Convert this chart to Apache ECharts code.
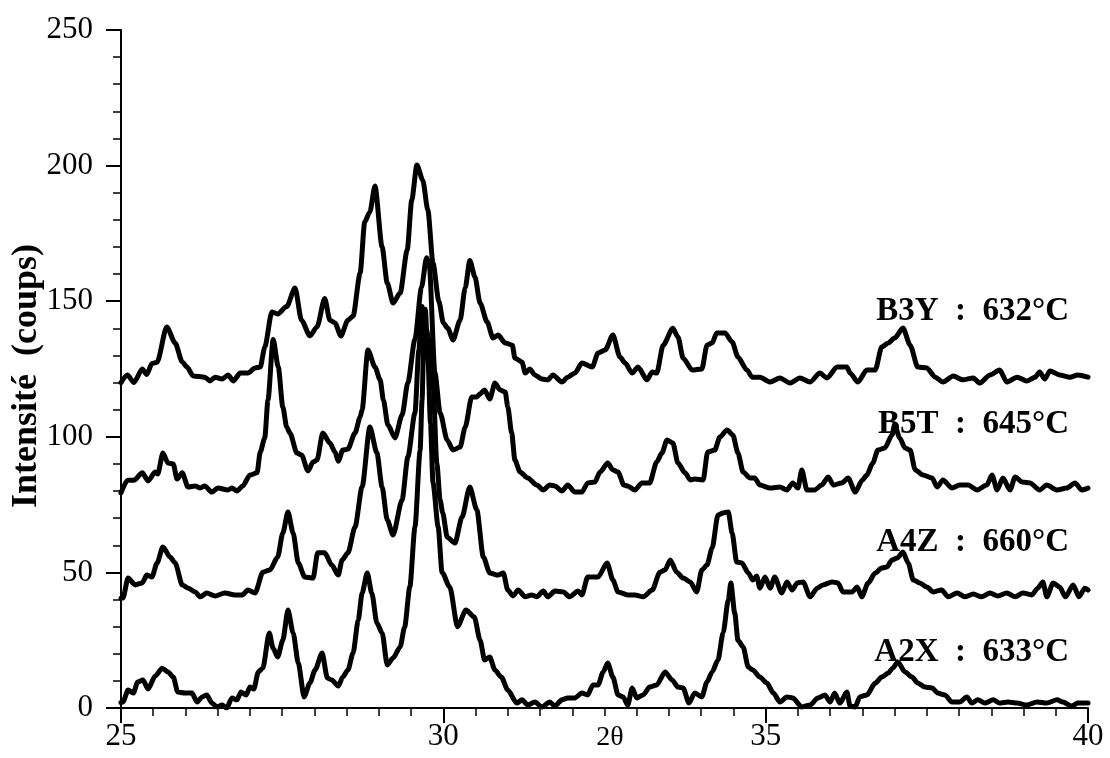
<!DOCTYPE html>
<html>
<head>
<meta charset="utf-8">
<script src="https://cdn.jsdelivr.net/npm/echarts@6/dist/echarts.min.js"></script>
<style>
html,body{margin:0;padding:0;background:#fff;}
#chart{width:1110px;height:758px;}
</style>
</head>
<body>
<div id="chart"></div>
<script>
// ---- Data (2θ in degrees, intensity in counts; curves are vertically offset as in the figure) ----
const xTicks = [25, 30, 35, 40];
const yTicks = [0, 50, 100, 150, 200, 250];
const seriesLabels = ['B3Y  :  632°C', 'B5T  :  645°C', 'A4Z  :  660°C', 'A2X  :  633°C'];
const xAxisTitle = '2θ';
const yAxisTitle = 'Intensité  (coups)';

const B3Y = [[25.0,120],[25.1,122.8],[25.2,120],[25.33,125],[25.4,123],[25.48,127],[25.56,127.5],[25.71,140.5],[25.84,134.6],[25.95,127.6],[26.02,125.8],[26.12,122.4],[26.3,122],[26.38,120.6],[26.46,122],[26.57,121.3],[26.66,122.8],[26.74,120.6],[26.85,123.5],[26.97,123.5],[27.08,125.4],[27.16,125.7],[27.23,133],[27.34,146],[27.43,145.3],[27.57,148],[27.7,154.9],[27.8,143],[27.93,137.2],[28.04,140.5],[28.16,151],[28.24,143],[28.32,142],[28.41,137.2],[28.52,143],[28.6,144.5],[28.71,160.4],[28.78,179.2],[28.86,182.9],[28.94,192.5],[29.05,170],[29.13,156.7],[29.22,149.3],[29.33,153],[29.44,168.9],[29.51,187.3],[29.59,200.2],[29.68,194.7],[29.76,183.6],[29.84,164],[29.93,150],[30.0,142],[30.07,140],[30.15,135.7],[30.26,143],[30.34,155],[30.41,165],[30.49,159],[30.57,149.3],[30.68,142.3],[30.77,136.4],[30.85,137.5],[30.96,134.6],[31.07,133.8],[31.11,129],[31.22,127.6],[31.27,123.5],[31.34,125],[31.42,122.8],[31.53,121.3],[31.62,121],[31.7,122.8],[31.84,120.2],[31.93,122],[32.04,123.5],[32.15,127.2],[32.31,125.7],[32.4,130.9],[32.51,132],[32.63,137.5],[32.74,129.4],[32.82,127.2],[32.93,123.5],[33.02,125.7],[33.16,121],[33.24,123.9],[33.31,123.5],[33.41,133.8],[33.56,140],[33.64,136.8],[33.72,129],[33.86,124.6],[34.01,125],[34.09,133.8],[34.17,134.6],[34.24,138.3],[34.37,138.3],[34.48,135],[34.57,129.4],[34.71,124.6],[34.79,122],[34.91,122],[35.07,120.2],[35.22,121.7],[35.38,119.8],[35.53,121.7],[35.69,120.2],[35.84,123.5],[35.95,121.7],[36.11,125.7],[36.26,125.7],[36.31,123.5],[36.43,120.2],[36.57,124.6],[36.7,124.6],[36.8,133.1],[36.9,134.6],[37.0,136.4],[37.13,140.1],[37.24,133.8],[37.36,125.7],[37.5,125.4],[37.63,122],[37.75,120.2],[37.91,122.4],[38.06,121],[38.22,121.7],[38.32,119.8],[38.48,122.8],[38.63,124.6],[38.74,120.2],[38.9,122],[39.05,120.6],[39.18,122],[39.25,123.9],[39.33,121.3],[39.41,124.3],[39.56,122.8],[39.72,122],[39.84,122.8],[40.0,122]];

const B5T = [[25.0,79.3],[25.1,84],[25.2,84],[25.33,86.7],[25.42,83.7],[25.53,87],[25.57,86.3],[25.65,94],[25.73,90.3],[25.81,90],[25.87,84.4],[25.95,86.7],[26.04,81.5],[26.15,81.9],[26.23,81.1],[26.3,81.9],[26.41,79.6],[26.5,81.1],[26.66,80.4],[26.72,81.1],[26.8,80],[26.89,81.9],[27.0,85.9],[27.11,86.7],[27.16,94.4],[27.23,99.6],[27.28,113.6],[27.36,135.9],[27.44,125.7],[27.51,111],[27.57,103.6],[27.62,101.4],[27.73,94],[27.8,93.3],[27.9,87.4],[27.98,90.7],[28.04,91.4],[28.13,101.4],[28.24,97.7],[28.32,94.4],[28.37,91],[28.44,95.1],[28.52,95.5],[28.63,101.4],[28.71,107.3],[28.74,110],[28.83,132],[28.94,125.7],[29.02,121],[29.07,113.6],[29.14,104.4],[29.25,99.6],[29.36,108],[29.45,120],[29.56,136],[29.66,155],[29.74,166],[29.78,164],[29.87,123.5],[29.95,108.8],[30.06,98.8],[30.15,95.1],[30.26,96.2],[30.34,103.6],[30.44,114.7],[30.52,114.7],[30.57,115.8],[30.64,117.3],[30.72,113.9],[30.8,119.8],[30.88,117.3],[30.96,116.5],[31.0,111],[31.06,101.4],[31.11,91.4],[31.19,87],[31.31,84.8],[31.45,82.2],[31.55,80.4],[31.65,82.2],[31.73,81.9],[31.84,80],[31.93,82.2],[32.04,79.6],[32.15,79.6],[32.24,83],[32.35,83.3],[32.43,87],[32.55,90.3],[32.63,87.8],[32.71,87],[32.8,82.2],[32.86,81.9],[32.97,80.4],[33.08,83],[33.2,83],[33.31,90.7],[33.39,94],[33.47,98.8],[33.56,97.7],[33.64,90.3],[33.75,86.7],[33.83,84.1],[33.9,84.4],[34.03,84.1],[34.1,94.4],[34.21,95.1],[34.29,99.9],[34.4,102.5],[34.49,100.7],[34.57,94],[34.65,87],[34.76,84.8],[34.83,84.8],[34.91,82.2],[35.07,81.1],[35.22,81.5],[35.33,80.4],[35.42,83],[35.5,81.1],[35.56,87.8],[35.64,80.4],[35.76,80.4],[35.87,82.2],[35.97,85.2],[36.05,82.2],[36.18,83],[36.28,84.8],[36.39,79.6],[36.5,84.1],[36.57,85.9],[36.66,90.3],[36.74,95.1],[36.85,95.9],[36.96,100.7],[37.0,104.4],[37.08,99.6],[37.16,95.9],[37.24,95.1],[37.32,87.8],[37.44,85.9],[37.58,84.8],[37.66,81.5],[37.75,84.1],[37.89,81.1],[38.01,82.2],[38.14,82.2],[38.28,80.4],[38.43,82.2],[38.51,85.9],[38.59,80.4],[38.68,84.8],[38.79,80.4],[38.87,85.2],[38.98,83.3],[39.1,83],[39.25,80.4],[39.36,82.2],[39.52,80.4],[39.67,81.1],[39.8,83],[39.9,80.4],[40.0,81.1]];

const A4Z = [[25.0,40.5],[25.03,40.6],[25.11,47.9],[25.22,45.4],[25.33,46.1],[25.4,49],[25.48,48.3],[25.56,53.5],[25.65,59.4],[25.76,55.7],[25.84,53.5],[25.95,45.4],[26.04,44.2],[26.15,42.8],[26.23,41],[26.33,42.4],[26.46,41.3],[26.61,42.4],[26.77,41.7],[26.88,41.7],[26.97,43.5],[27.08,42.4],[27.2,50.1],[27.31,50.9],[27.43,55.7],[27.51,64.5],[27.59,72.3],[27.67,64.5],[27.75,53.5],[27.85,48.3],[27.98,47.9],[28.05,57.2],[28.16,57.2],[28.27,52.7],[28.37,49],[28.43,54.6],[28.52,57.2],[28.63,66.7],[28.74,81.5],[28.86,103.6],[28.97,94],[29.05,81.5],[29.13,69.3],[29.22,63.8],[29.36,76.7],[29.45,92.6],[29.56,108.8],[29.62,132],[29.67,148],[29.73,140],[29.79,134.6],[29.84,119.8],[29.9,90],[29.95,76.7],[29.99,72],[30.06,63],[30.18,60.8],[30.29,70.4],[30.41,81.5],[30.52,73],[30.62,55.7],[30.72,49.8],[30.85,49],[30.93,49.8],[31.0,43.5],[31.08,41.3],[31.16,43.5],[31.27,41],[31.37,41.7],[31.45,41],[31.55,43.1],[31.62,41],[31.73,43.1],[31.86,42.8],[31.96,41],[32.09,43.1],[32.15,41.7],[32.24,48.3],[32.4,48.3],[32.54,53.5],[32.63,47.2],[32.71,42.8],[32.86,41.7],[32.97,41.7],[33.1,41],[33.24,43.5],[33.36,50.1],[33.44,50.9],[33.52,54.6],[33.62,50.1],[33.72,47.9],[33.83,46.5],[33.93,42.8],[34.01,50.9],[34.09,52.7],[34.17,59],[34.26,71.2],[34.34,71.9],[34.42,72.3],[34.48,64.5],[34.55,53.8],[34.63,53.5],[34.73,49.8],[34.8,47.2],[34.86,48.7],[34.91,44.2],[34.99,48.3],[35.07,44.2],[35.14,48.3],[35.25,42.4],[35.33,46.5],[35.41,43.5],[35.49,46.1],[35.58,46.5],[35.69,41],[35.8,44.2],[35.89,45.4],[36.03,46.5],[36.12,46.1],[36.2,42.8],[36.34,42.8],[36.42,44.6],[36.49,41],[36.59,46.1],[36.7,49.8],[36.8,51.6],[36.88,52],[36.96,54.6],[37.04,55.3],[37.13,57.5],[37.21,53.5],[37.29,47.2],[37.39,46.1],[37.5,44.6],[37.6,42.8],[37.73,43.5],[37.83,41],[37.97,42.4],[38.09,41],[38.22,42],[38.35,41],[38.48,42.4],[38.6,41.3],[38.74,42.4],[38.87,41],[38.99,42.4],[39.13,41.7],[39.22,44.2],[39.3,46.5],[39.36,41],[39.46,46.1],[39.56,44.6],[39.65,41],[39.77,45.4],[39.86,41],[39.95,44.2],[40.0,43.5]];

const A2X = [[25.0,2],[25.03,2.2],[25.11,6.6],[25.19,5.5],[25.26,9.6],[25.34,10.3],[25.42,7],[25.53,11.8],[25.64,14.7],[25.73,13.3],[25.81,11.4],[25.88,5.9],[25.99,5.5],[26.1,5.5],[26.18,2.2],[26.26,4.1],[26.33,4.8],[26.41,1.8],[26.49,0.4],[26.57,1.1],[26.64,0],[26.72,3.7],[26.8,3],[26.86,5.9],[26.94,4.8],[27.0,7.7],[27.06,7],[27.13,13.3],[27.2,14.7],[27.3,27.7],[27.36,22],[27.43,18.8],[27.51,25],[27.59,36.1],[27.67,27.7],[27.75,16.6],[27.84,4.1],[27.93,9.2],[28.01,14],[28.12,20.3],[28.2,11.1],[28.27,10.3],[28.37,8.1],[28.44,11.4],[28.52,14],[28.6,20.3],[28.68,32.4],[28.74,42.4],[28.82,49.8],[28.89,42.4],[28.97,31.3],[29.05,27.7],[29.13,15.9],[29.22,18.4],[29.33,22.5],[29.4,29.9],[29.48,44.6],[29.56,66.7],[29.64,95],[29.67,113.6],[29.7,140],[29.72,147],[29.76,130],[29.8,105],[29.84,83],[29.92,66.7],[29.98,50],[30.1,44.6],[30.22,30],[30.35,36.1],[30.48,33.6],[30.57,25],[30.64,17.7],[30.72,18.8],[30.8,14],[30.9,11.4],[31.0,6.6],[31.14,1.8],[31.22,3],[31.31,1.1],[31.42,2.2],[31.53,0.4],[31.65,2.2],[31.73,0.7],[31.84,3],[31.93,3.7],[32.04,3.7],[32.15,5.5],[32.24,4.8],[32.32,8.5],[32.4,8.5],[32.48,13.3],[32.55,16.6],[32.63,11.4],[32.71,4.8],[32.79,4.1],[32.86,1.1],[32.93,7.4],[33.0,3.7],[33.1,4.8],[33.2,7.7],[33.31,8.5],[33.44,13.3],[33.55,10.3],[33.64,7.7],[33.72,7.4],[33.81,1.8],[33.9,5.5],[34.01,4.1],[34.09,9.6],[34.17,13.3],[34.26,17.7],[34.34,27.7],[34.42,39.8],[34.46,46.1],[34.52,35],[34.57,25],[34.65,22.5],[34.73,15.1],[34.8,14],[34.91,11.4],[35.02,9.2],[35.12,5.5],[35.22,2.2],[35.33,4.1],[35.42,3.7],[35.56,0.4],[35.69,1.1],[35.81,3.7],[35.92,4.8],[36.0,2.2],[36.07,5.5],[36.15,1.8],[36.26,5.9],[36.31,0.7],[36.39,0.4],[36.46,4.1],[36.57,4.8],[36.7,9.2],[36.8,11.4],[36.9,12.9],[36.97,14.7],[37.05,17],[37.16,13.3],[37.27,11.4],[37.36,9.2],[37.47,7.7],[37.58,7.4],[37.67,5.5],[37.78,4.8],[37.89,2.2],[38.01,2.2],[38.12,4.1],[38.2,1.8],[38.29,3],[38.4,1.8],[38.53,3],[38.63,1.8],[38.76,2.2],[38.9,1.8],[39.05,1.1],[39.21,2.2],[39.36,1.8],[39.52,3],[39.61,2.2],[39.75,0.7],[39.84,1.8],[40.0,1.8]];

// ---- Chart ----
const SERIF = '"Liberation Serif", "Times New Roman", serif';
const chart = echarts.init(document.getElementById('chart'), null, {renderer: 'canvas'});

function lineSeries(name, data) {
  return {
    name: name, type: 'line', data: data, showSymbol: false, symbol: 'none',
    smooth: 0.25, smoothMonotone: 'x', clip: true,
    lineStyle: {color: '#000', width: 5, join: 'round', cap: 'round'},
    emphasis: {disabled: true}
  };
}

const labelY = [311, 424, 542, 652];

chart.setOption({
  animation: false,
  backgroundColor: '#fff',
  grid: {left: 121, right: 22, top: 30, bottom: 50},
  xAxis: {
    type: 'value', min: xTicks[0], max: xTicks[xTicks.length - 1], interval: 5,
    axisLine: {show: true, onZero: false, lineStyle: {color: '#000', width: 2}},
    axisTick: {show: true, inside: false, length: 15, lineStyle: {color: '#000', width: 2}},
    minorTick: {show: true, splitNumber: 10, length: 8, lineStyle: {color: '#000', width: 1.5}},
    splitLine: {show: false},
    axisLabel: {color: '#000', fontFamily: SERIF, fontSize: 31, margin: 13}
  },
  yAxis: {
    type: 'value', min: yTicks[0], max: yTicks[yTicks.length - 1], interval: 50,
    axisLine: {show: true, onZero: false, lineStyle: {color: '#000', width: 2}},
    axisTick: {show: true, inside: false, length: 15, lineStyle: {color: '#000', width: 2}},
    minorTick: {show: true, splitNumber: 5, length: 8, lineStyle: {color: '#000', width: 1.5}},
    splitLine: {show: false},
    axisLabel: {color: '#000', fontFamily: SERIF, fontSize: 31, margin: 28}
  },
  graphic: [
    {type: 'text', x: 27, y: 376, rotation: Math.PI / 2,
     style: {text: yAxisTitle, fontFamily: SERIF, fontSize: 36, fontWeight: 'bold', fill: '#000', align: 'center', verticalAlign: 'middle'}},
    {type: 'text', x: 610, y: 738,
     style: {text: xAxisTitle, fontFamily: SERIF, fontSize: 28, fill: '#000', align: 'center', verticalAlign: 'middle'}}
  ].concat(seriesLabels.map((t, i) => ({
    type: 'text', x: 1069, y: labelY[i], z: 10,
    style: {text: t, fontFamily: SERIF, fontSize: 33, fontWeight: 'bold', fill: '#000', align: 'right', verticalAlign: 'middle'}
  }))),
  series: [
    lineSeries('B3Y', B3Y),
    lineSeries('B5T', B5T),
    lineSeries('A4Z', A4Z),
    lineSeries('A2X', A2X)
  ]
});
</script>
</body>
</html>
